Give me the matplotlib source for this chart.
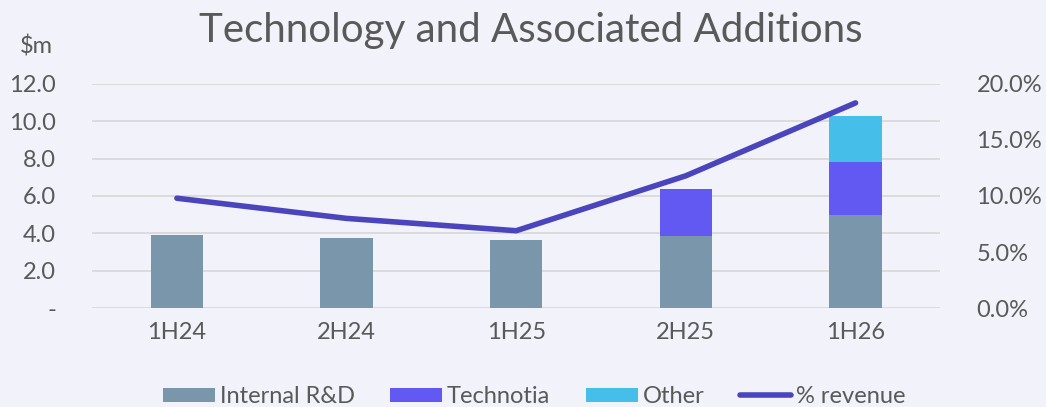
import matplotlib.pyplot as plt
import numpy as np

# data
periods = ["1H24", "2H24", "1H25", "2H25", "1H26"]
internal_rd = [3.9, 3.75, 3.65, 3.88, 5.0]
technotia = [0.0, 0.0, 0.0, 2.5, 2.81]
other = [0.0, 0.0, 0.0, 0.0, 2.46]
pct_revenue = [9.8, 8.0, 6.9, 11.8, 18.3]

bg = "#F1F2FA"
txt = "#595959"
plt.rcParams["font.family"] = ["Lato", "DejaVu Sans"]

fig = plt.figure(figsize=(10.46, 4.07), dpi=100, facecolor=bg)
ax = fig.add_axes([0.088, 0.243, 0.811, 0.551])
ax.set_facecolor(bg)

x = np.arange(len(periods))
w = 0.31
bottom2 = np.array(internal_rd)
bottom3 = bottom2 + np.array(technotia)
ax.bar(x, internal_rd, w, color="#7A96AA", label="Internal R&D", zorder=2)
ax.bar(x, technotia, w, bottom=bottom2, color="#6258F2", label="Technotia", zorder=2)
ax.bar(x, other, w, bottom=bottom3, color="#45BFEA", label="Other", zorder=2)

ax.set_ylim(0, 12)
ax.set_yticks(np.arange(0, 13, 2))
ax.set_yticklabels(["-"] + [f"{v:.1f}" for v in range(2, 13, 2)])
ax.set_xlim(-0.5, 4.5)
ax.set_xticks(x)
ax.set_xticklabels(periods)
ax.grid(axis="y", color="#D9D9D9", lw=1.3, zorder=0)
for s in ax.spines.values():
    s.set_visible(False)
ax.tick_params(length=0, labelsize=17, colors=txt)
ax.tick_params(axis="y", pad=26)
ax.tick_params(axis="x", pad=10)

ax2 = ax.twinx()
ax2.plot(x, pct_revenue, color="#4A45BD", lw=4, solid_capstyle="round",
         label="% revenue", zorder=3)
ax2.set_ylim(0, 20)
ax2.set_yticks(np.arange(0, 21, 5))
ax2.set_yticklabels([f"{v:.1f}%" for v in range(0, 21, 5)])
for s in ax2.spines.values():
    s.set_visible(False)
ax2.tick_params(length=0, labelsize=17, colors=txt, pad=26)

fig.text(0.507, 0.925, "Technology and Associated Additions", ha="center", va="center",
         fontsize=29, color=txt)
fig.text(0.019, 0.885, "$m", fontsize=17, color=txt, va="center")

h1, l1 = ax.get_legend_handles_labels()
h2, l2 = ax2.get_legend_handles_labels()
fig.legend(h1 + h2, l1 + l2, loc="center", bbox_to_anchor=(0.511, 0.025), ncol=4,
           frameon=False, fontsize=17, labelcolor=txt, handlelength=2.2,
           handleheight=0.6, handletextpad=0.2, columnspacing=1.5)

fig.savefig("out.png", dpi=100, facecolor=bg)
